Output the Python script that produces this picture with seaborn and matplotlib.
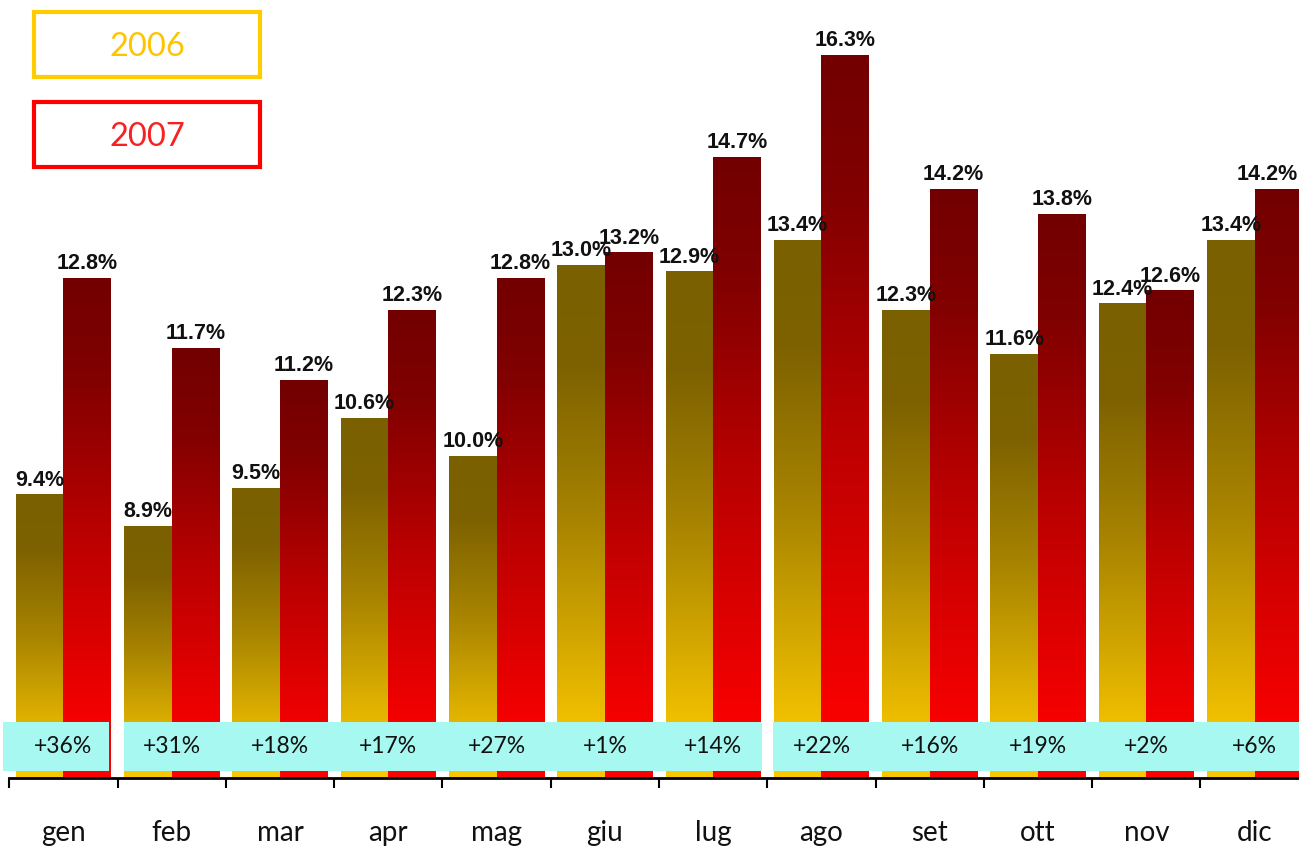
import numpy as np
import pandas as pd
import matplotlib
matplotlib.use('Agg')
import matplotlib.pyplot as plt
import seaborn as sns
from matplotlib.colors import LinearSegmentedColormap
from matplotlib.patches import Rectangle
from matplotlib.transforms import blended_transform_factory

mesi = ['gen', 'feb', 'mar', 'apr', 'mag', 'giu', 'lug', 'ago', 'set', 'ott', 'nov', 'dic']
val_2006 = [9.4, 8.9, 9.5, 10.6, 10.0, 13.0, 12.9, 13.4, 12.3, 11.6, 12.4, 13.4]
val_2007 = [12.8, 11.7, 11.2, 12.3, 12.8, 13.2, 14.7, 16.3, 14.2, 13.8, 12.6, 14.2]
variazioni = ['+36%', '+31%', '+18%', '+17%', '+27%', '+1%', '+14%', '+22%', '+16%', '+19%', '+2%', '+6%']
anni = ['2006', '2007']

df = pd.DataFrame({
    'mese': mesi * 2,
    'valore': val_2006 + val_2007,
    'anno': ['2006'] * 12 + ['2007'] * 12,
})

sns.set_style('white')
plt.rcParams['font.family'] = ['Lato', 'DejaVu Sans']

fig = plt.figure(figsize=(12.99, 8.47), dpi=100)
ax = fig.add_axes([9.3 / 1299, 69 / 847, 1 - 9.3 / 1299, 778 / 847])

sns.barplot(data=df, x='mese', y='valore', hue='anno', width=0.88,
            palette={'2006': '#F8C800', '2007': '#FF0000'}, saturation=1,
            legend=False, ax=ax)

ymin, ymax = 4.95, 17.17

# gradient fill for the bars
cmaps = {
    '2006': LinearSegmentedColormap.from_list(
        'g06', [(0, '#FAC800'), (0.08, '#F6C400'), (0.5, '#A88400'), (0.8, '#7E6200'), (1, '#7A6000')]),
    '2007': LinearSegmentedColormap.from_list(
        'g07', [(0, '#FF0000'), (0.08, '#FA0000'), (0.5, '#B80000'), (0.8, '#820000'), (1, '#720000')]),
}
grad = np.linspace(0, 1, 256).reshape(-1, 1)
for anno, cont in zip(anni, ax.containers):
    for bar in cont:
        x0 = bar.get_x()
        w = bar.get_width()
        h = bar.get_height()
        bar.set_facecolor('none')
        bar.set_edgecolor('none')
        ax.imshow(grad, cmap=cmaps[anno], origin='lower', aspect='auto',
                  extent=[x0, x0 + w, ymin, h], zorder=1, interpolation='bilinear')
    labels = ax.bar_label(cont, labels=[f'{v:.1f}%' for v in cont.datavalues], padding=3,
                          fontsize=15.5, fontweight='bold', family='Liberation Sans',
                          color='#111111')
# last label sits against the right edge
labels[-1].xyann = (-8, 3)

# cyan boxes with the change
trans = blended_transform_factory(ax.transData, ax.transAxes)
spans = [(-0.56, 0.42), (0.56, 6.45), (6.55, 11.6)]
for a, b in spans:
    ax.add_patch(Rectangle((a, 0.009), b - a, 0.063, transform=trans,
                           facecolor='#A6F8F0', edgecolor='none', zorder=3, clip_on=False))
for i, t in enumerate(variazioni):
    ax.text(i, 0.0405, t, transform=trans, ha='center', va='center',
            fontsize=16.5, color='#111111', zorder=4)

# axis
for s in ['top', 'right', 'left']:
    ax.spines[s].set_visible(False)
ax.spines['bottom'].set_linewidth(2)
ax.spines['bottom'].set_color('black')
ax.set_yticks([])
ax.set_xticks(range(12))
ax.set_xticklabels(mesi, fontsize=20, color='#111111')
ax.set_xticks(np.arange(-0.5, 12, 1), minor=True)
ax.tick_params(axis='x', which='major', bottom=True, length=0, pad=30)
ax.tick_params(axis='x', which='minor', bottom=True, length=7, width=1.5, color='black')
ax.set_xlabel('')
ax.set_ylabel('')
ax.set_xlim(-0.5, 11.41)
ax.set_ylim(ymin, ymax)

# legend boxes
for k, (anno, col, tcol) in enumerate([('2006', '#FFCC00', '#FFC400'), ('2007', '#FF0000', '#F82020')]):
    y0 = 12 + k * 90
    fig.patches.append(Rectangle((34 / 1299, 1 - (y0 + 65) / 847), 226 / 1299, 65 / 847,
                                 transform=fig.transFigure, facecolor='white',
                                 edgecolor=col, linewidth=3))
    fig.text(147 / 1299, 1 - (y0 + 35) / 847, anno, ha='center', va='center',
             fontsize=23.5, color=tcol)

fig.savefig('out.png', dpi=100)
